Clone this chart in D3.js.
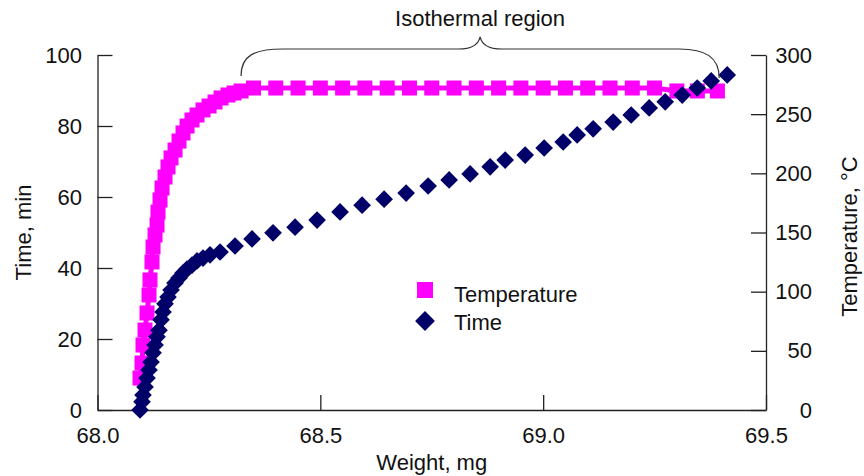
<!DOCTYPE html>
<html><head><meta charset="utf-8">
<script src="https://cdn.jsdelivr.net/npm/d3@7"></script>
<style>
body{margin:0;background:#fff;}
text{font-family:"Liberation Sans",Arial,sans-serif;fill:#111;}
</style>
</head><body>
<svg id="c" width="864" height="476"></svg>
<script>
// ---- data ----
const tempWeight = [68.0954,68.0999,68.1021,68.1066,68.1111,68.1156,68.1178,68.1223,68.1246,68.1291,68.1336,68.1358,68.1403,68.1448,68.1515,68.1582,68.1650,68.1740,68.1829,68.1919,68.2009,68.2121,68.2233,68.2368,68.2503,68.2637,68.2772,68.2929,68.3064,68.3221,
  68.35,68.40,68.45,68.50,68.55,68.60,68.65,68.70,68.75,68.80,68.85,68.90,68.95,69.00,69.05,69.10,69.15,69.20,69.25,69.30,69.346,69.391];
const temperature = [27.0,39.7,54.9,67.6,82.0,97.2,109.9,125.1,137.7,147.9,156.3,167.3,177.5,187.6,196.9,205.4,213.0,219.7,227.3,234.1,240.0,245.1,249.3,253.6,256.9,260.3,263.7,266.2,267.9,269.6,
  272.1,272.1,272.1,272.1,272.1,272.1,272.1,272.1,272.1,272.1,272.1,272.1,272.1,272.1,272.1,272.1,272.1,272.1,272.1,269.6,269.6,269.6];
const timeWeight = [68.0954,68.0999,68.1021,68.1066,68.1111,68.1156,68.1201,68.1246,68.1291,68.1336,68.1380,68.1425,68.1470,68.1515,68.1582,68.1650,68.1740,68.1829,68.1919,68.2009,68.2121,68.2233,68.2368,68.2525,68.2750,68.3086,
  68.3468,68.3939,68.4433,68.4927,68.5443,68.5937,68.6431,68.6925,68.7419,68.7890,68.8361,68.8810,68.9147,68.9596,69.0022,69.0449,69.0763,69.1122,69.1571,69.1975,69.2379,69.2738,69.3120,69.3457,69.3771,69.4130];
const time = [0.0,2.3,4.2,6.5,9.0,11.3,13.5,16.1,18.3,20.6,22.5,25.4,27.6,29.9,31.8,33.8,35.8,37.2,38.6,39.7,40.8,42.0,42.8,43.7,44.5,46.2,
  48.2,49.9,51.5,53.5,55.8,57.7,59.4,61.1,63.1,64.8,66.5,68.5,70.4,71.8,73.8,75.5,77.5,79.2,81.1,83.1,85.1,86.8,88.7,90.7,92.7,94.4];
const xTicks = [68.0, 68.5, 69.0, 69.5];
const timeTicks = [0, 20, 40, 60, 80, 100];
const tempTicks = [0, 50, 100, 150, 200, 250, 300];
const seriesNames = ["Temperature", "Time"];
const braceRange = [68.322, 69.395];
const braceLabel = "Isothermal region";

// ---- layout ----
const L = 97.5, R = 766, T = 55, B = 410;
const FS = 22;
const magenta = "#ff00ff", navy = "#000068";

const svg = d3.select("#c");
const x = d3.scaleLinear().domain([68, 69.5]).range([L, R]);
const yL = d3.scaleLinear().domain([0, 100]).range([B, T]);
const yR = d3.scaleLinear().domain([0, 300]).range([B, T]);

function styleAxis(g){
  g.attr("font-size", FS).attr("font-family", '"Liberation Sans",Arial,sans-serif');
  g.selectAll("path,line").attr("stroke", "#222").attr("stroke-width", 1.3);
  g.selectAll("text").attr("fill", "#111");
}

svg.append("g").attr("transform", `translate(0,${B})`)
  .call(d3.axisBottom(x).tickValues(xTicks).tickFormat(d3.format(".1f")).tickSize(-15).tickSizeOuter(0).tickPadding(17))
  .call(styleAxis);
svg.append("g").attr("transform", `translate(${L},0)`)
  .call(d3.axisLeft(yL).tickValues(timeTicks).tickSize(-15).tickSizeOuter(0).tickPadding(15.5))
  .call(styleAxis);
const gr = svg.append("g").attr("transform", `translate(${R},0)`)
  .call(d3.axisRight(yR).tickValues(tempTicks).tickSize(-15).tickSizeOuter(0).tickPadding(46))
  .call(styleAxis);
gr.selectAll("text").attr("text-anchor", "end");

// axis titles
svg.append("text").attr("transform", `translate(31,${(T+B)/2}) rotate(-90)`)
  .attr("text-anchor", "middle").attr("font-size", FS).text("Time, min");
svg.append("text").attr("transform", `translate(857,${(T+B)/2+4}) rotate(-90)`)
  .attr("text-anchor", "middle").attr("font-size", FS).text("Temperature, °C");
svg.append("text").attr("x", (L+R)/2).attr("y", 470)
  .attr("text-anchor", "middle").attr("font-size", FS).text("Weight, mg");

// temperature series
const tData = tempWeight.map((w,i)=>({w, v: temperature[i]}));
svg.append("path").datum(tData)
  .attr("fill", "none").attr("stroke", magenta).attr("stroke-width", 5)
  .attr("d", d3.line().x(d=>x(d.w)).y(d=>yR(d.v)));
const sq = 15;
svg.append("g").selectAll("rect").data(tData).join("rect")
  .attr("x", d=>x(d.w)-sq/2).attr("y", d=>yR(d.v)-sq/2)
  .attr("width", sq).attr("height", sq).attr("fill", magenta);

// time series
const mData = timeWeight.map((w,i)=>({w, v: time[i]}));
const ds = 12.5;
svg.append("g").selectAll("rect").data(mData).join("rect")
  .attr("x", -ds/2).attr("y", -ds/2).attr("width", ds).attr("height", ds)
  .attr("transform", d=>`translate(${x(d.w)},${yL(d.v)}) rotate(45)`)
  .attr("fill", navy);

// brace annotation
const bx0 = x(braceRange[0]), bx1 = x(braceRange[1]), bm = (bx0+bx1)/2;
const yEnd = 76, yH = 49, yTip = 37;
svg.append("path").attr("fill", "none").attr("stroke", "#333").attr("stroke-width", 1.2)
  .attr("d", `M${bx0},${yEnd} C${bx0},${yH+6} ${bx0+14},${yH} ${bx0+42},${yH}
    L${bm-22},${yH} C${bm-8},${yH} ${bm-2},${yH-4} ${bm},${yTip}
    C${bm+2},${yH-4} ${bm+8},${yH} ${bm+22},${yH}
    L${bx1-40},${yH} C${bx1-14},${yH} ${bx1},${yH+8} ${bx1},${yEnd+2}`);
svg.append("text").attr("x", bm).attr("y", 26).attr("text-anchor", "middle")
  .attr("font-size", FS).text(braceLabel);

// legend
const lg = svg.append("g");
lg.append("rect").attr("x", 417).attr("y", 282).attr("width", 16).attr("height", 16).attr("fill", magenta);
lg.append("rect").attr("x", -7).attr("y", -7).attr("width", 14).attr("height", 14)
  .attr("transform", "translate(425,321) rotate(45)").attr("fill", navy);
lg.selectAll("text.lab").data(seriesNames).join("text").attr("class","lab")
  .attr("x", 454).attr("y", (d,i)=>302+i*28).attr("font-size", FS).text(d=>d);
</script>
</body></html>
